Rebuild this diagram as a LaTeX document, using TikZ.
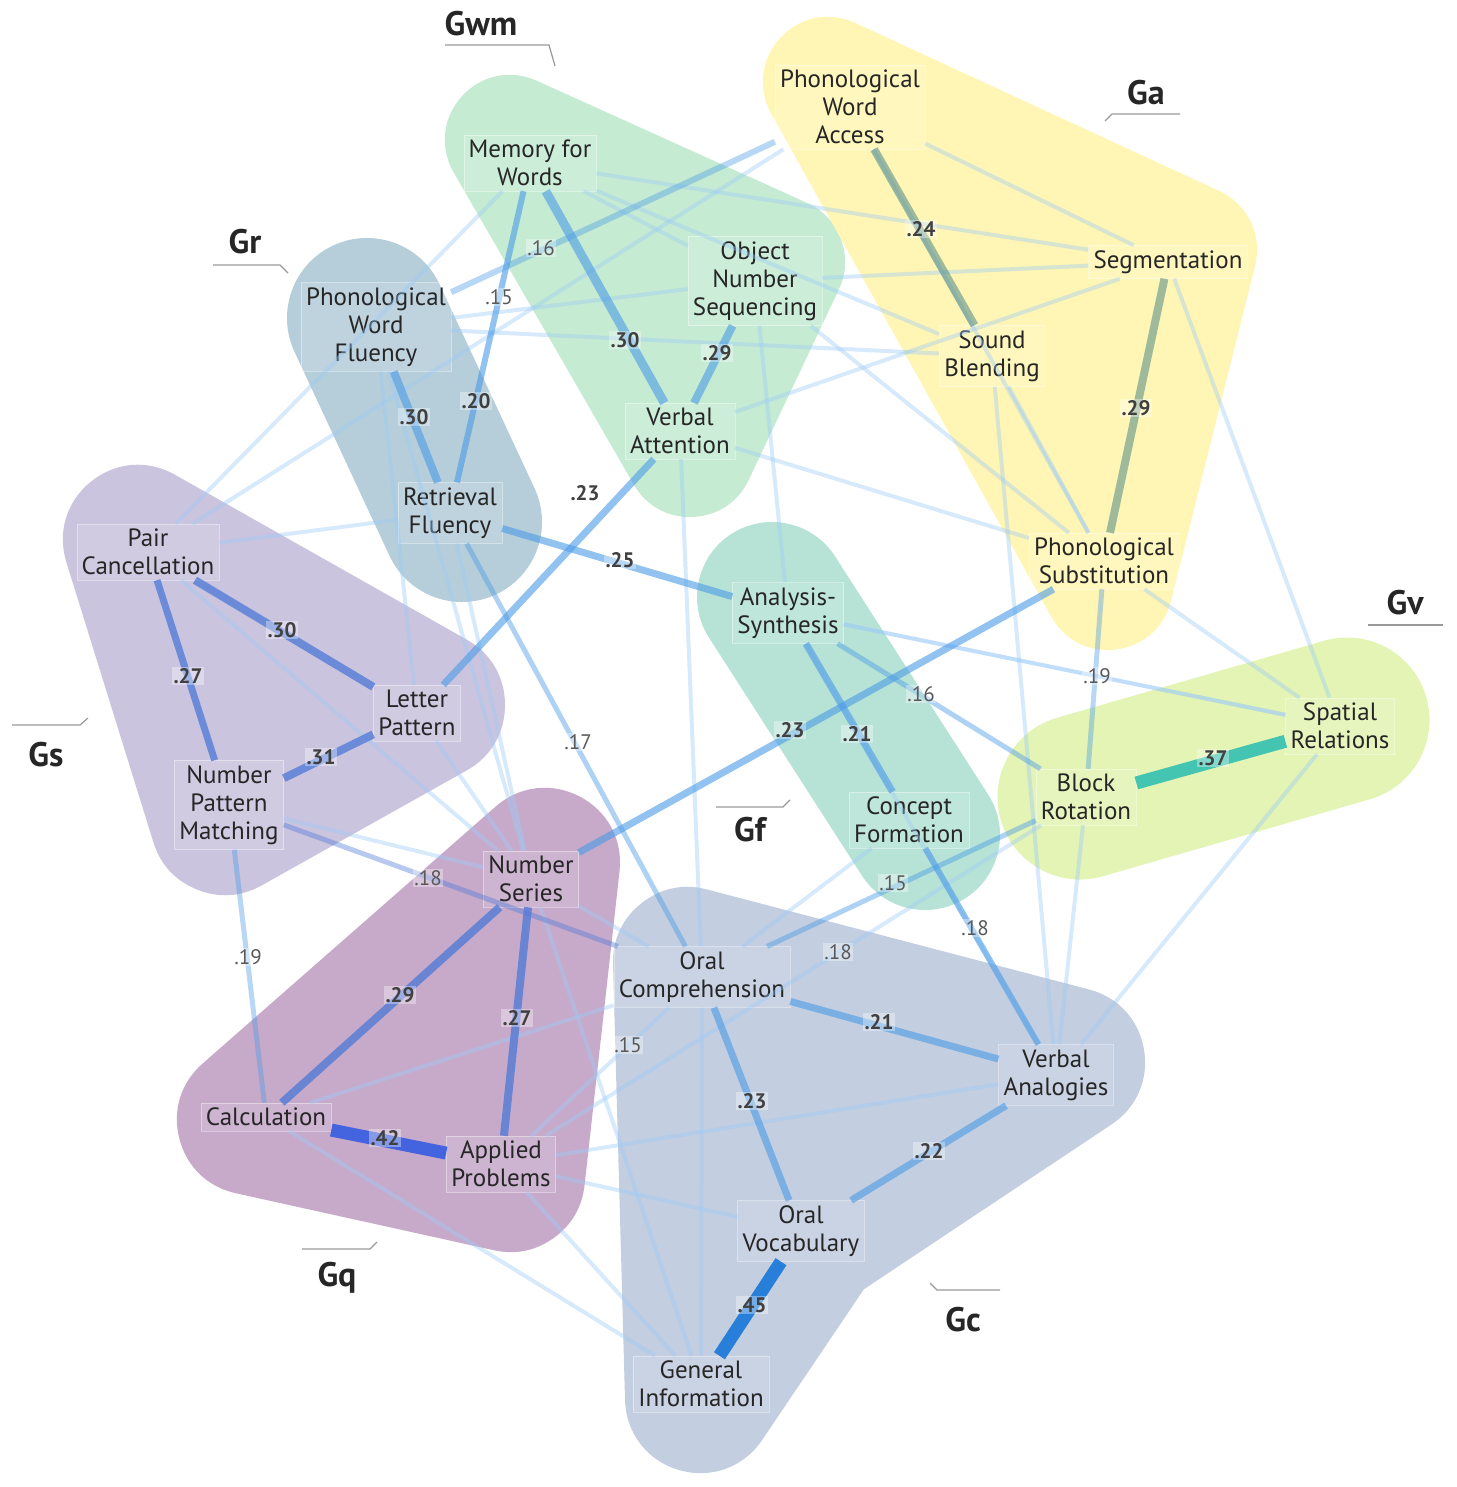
\documentclass[tikz,border=0pt]{standalone}
\usepackage{fontspec}
\setmainfont{PT Sans}
\begin{document}
\begin{tikzpicture}[x=1pt,y=-1pt,
 blob/.style={line join=round,line width=#1},
 nd/.style={font=\fontsize{25}{28}\selectfont,align=center,text=black!85,fill=white,fill opacity=0.12,text opacity=1,draw=white,draw opacity=0.4,inner sep=5pt},
 gl/.style={font=\bfseries\fontsize{34}{36}\selectfont,text=black!85},
 gline/.style={draw=gray!80,line width=1.2pt},
 st/.style={draw=cst,draw opacity=0.6,line width=#1},
 sp/.style={draw=csp,draw opacity=0.75,line width=#1},
 fa/.style={draw=cfa,draw opacity=0.4,line width=4pt},
 lb/.style={font=\fontsize{21}{22}\selectfont,text=black!65,fill=white,fill opacity=0.35,text opacity=1,inner sep=1.5pt},
 lbb/.style={lb,text=black!75,font=\bfseries\fontsize{21}{22}\selectfont}]
\useasboundingbox (0,0) rectangle (1456,1487);
\definecolor{cwm}{HTML}{C6EBD3}\definecolor{ca}{HTML}{FFF6B6}\definecolor{cr}{HTML}{B6CEDA}
\definecolor{cs}{HTML}{CBC4DF}\definecolor{cq}{HTML}{C7AACA}\definecolor{cf}{HTML}{B7E3D6}
\definecolor{cv}{HTML}{E3F4B5}\definecolor{cc}{HTML}{C3CEE0}
\definecolor{cst}{HTML}{4A9BE6}\definecolor{csp}{HTML}{4C78D8}\definecolor{cfa}{HTML}{9CCBF7}
% blobs
\filldraw[cwm,blob=130pt] (510,140)--(780,262)--(690,452)--cycle;
\filldraw[ca,blob=130pt] (828,82)--(1192,250)--(1108,585)--cycle;
\filldraw[cr,blob=160pt] (367,318)--(462,522)--cycle;
\filldraw[cs,blob=150pt] (138,540)--(430,705)--(225,820)--cycle;
\filldraw[cq,blob=150pt] (545,863)--(252,1120)--(510,1177)--cycle;
\filldraw[cf,blob=150pt] (772,597)--(925,835)--cycle;
\filldraw[cv,blob=165pt] (1080,797)--(1347,720)--cycle;
\filldraw[cc,blob=150pt] (688,962)--(1070,1062)--(810,1235)--(700,1398)--cycle;
% nodes
\node[nd] (mfw) at (530,163) {Memory for\\Words};
\node[nd] (ons) at (755,281) {Object\\Number\\Sequencing};
\node[nd] (va) at (680,431) {Verbal\\Attention};
\node[nd] (pwa) at (850,107) {Phonological\\Word\\Access};
\node[nd] (seg) at (1168,262) {Segmentation};
\node[nd] (sb) at (992,356) {Sound\\Blending};
\node[nd] (ps) at (1104,561) {Phonological\\Substitution};
\node[nd] (pwf) at (376,327) {Phonological\\Word\\Fluency};
\node[nd] (rf) at (450,513) {Retrieval\\Fluency};
\node[nd] (pc) at (148,552) {Pair\\Cancellation};
\node[nd] (lp) at (417,713) {Letter\\Pattern};
\node[nd] (npm) at (229,805) {Number\\Pattern\\Matching};
\node[nd] (as) at (788,613) {Analysis-\\Synthesis};
\node[nd] (cf) at (909,820) {Concept\\Formation};
\node[nd] (br) at (1086,797) {Block\\Rotation};
\node[nd] (sr) at (1340,726) {Spatial\\Relations};
\node[nd] (ns) at (531,879) {Number\\Series};
\node[nd] (calc) at (266,1117) {Calculation};
\node[nd] (ap) at (501,1164) {Applied\\Problems};
\node[nd] (oc) at (702,977) {Oral\\Comprehension};
\node[nd] (van) at (1056,1075) {Verbal\\Analogies};
\node[nd] (ov) at (801,1231) {Oral\\Vocabulary};
\node[nd] (gi) at (701,1384) {General\\Information};
% faint edges
\foreach \a/\b in {pwa/pc,pwa/seg,pwa/ps,mfw/seg,mfw/ons,mfw/sb,ons/seg,ons/pwf,ons/as,ons/ps,va/oc,va/ps,va/seg,sb/ps,sb/van,seg/sr,ps/sr,pwf/lp,pwf/ns,pc/rf,pc/ns,lp/ns,npm/ns,rf/ns,ns/oc,ns/gi,ap/oc,ap/van,ap/ov,calc/oc,calc/gi,oc/gi,oc/cf,van/sr,van/br,as/van,sr/as,ap/gi,br/ap,sb/pwf,mfw/pc,as/sr}
 \draw[fa] (\a) -- (\b);
% strong edges
\draw[st=9pt] (mfw) -- (va);
\draw[st=8pt] (ons) -- (va);
\draw[st=8pt] (pwf) -- (rf);
\draw[st=6pt] (mfw) -- (rf);
\draw[st=6pt,draw opacity=0.4] (pwa) -- (pwf);
\draw[st=7pt] (rf) -- (as);
\draw[st=7pt] (lp) -- (va);
\draw[sp=8pt] (pc) -- (lp);
\draw[sp=7pt] (pc) -- (npm);
\draw[sp=8pt] (npm) -- (lp);
\draw[st=5pt,draw opacity=0.4] (npm) -- (calc);
\draw[sp=5pt,draw opacity=0.4] (npm) -- (oc);
\draw[st=7pt] (ps) -- (ns);
\draw[st=7pt] (as) -- (cf);
\draw[st=5pt,draw opacity=0.45] (as) -- (br);
\draw[st=5pt,draw opacity=0.4] (ps) -- (br);
\draw[line width=13pt,draw=teal!60!cyan,draw opacity=0.7] (br) -- (sr);
\draw[st=5pt,draw opacity=0.45] (rf) -- (oc);
\draw[line width=8pt,draw=teal!50!gray,draw opacity=0.5] (pwa) -- (sb);
\draw[line width=8pt,draw=teal!50!gray,draw opacity=0.5] (seg) -- (ps);
\draw[st=5pt,draw opacity=0.45] (oc) -- (br);
\draw[st=6pt] (cf) -- (van);
\draw[st=7pt] (oc) -- (van);
\draw[st=7pt] (oc) -- (ov);
\draw[st=7pt] (van) -- (ov);
\draw[line width=13pt,draw=blue!50!cyan!85!black,draw opacity=0.8] (ov) -- (gi);
\draw[sp=8pt] (ns) -- (calc);
\draw[sp=8pt] (ns) -- (ap);
\draw[line width=13pt,draw=csp!80!blue,draw opacity=0.95] (calc) -- (ap);
% edge labels
\node[lbb] (l1) at (625,340) {.30};
\node[lbb] (l2) at (717,353) {.29};
\node[lbb] (l3) at (414,417) {.30};
\node[lbb] (l4) at (476,401) {.20};
\node[lb] (l5) at (499,297) {.15};
\node[lb] (l6) at (541,248) {.16};
\node[lbb] (l7) at (620,560) {.25};
\node[lbb] (l8) at (585,493) {.23};
\node[lbb] (l9) at (282,630) {.30};
\node[lbb] (l10) at (188,676) {.27};
\node[lbb] (l11) at (321,757) {.31};
\node[lb] (l12) at (248,957) {.19};
\node[lb] (l13) at (428,878) {.18};
\node[lbb] (l14) at (790,730) {.23};
\node[lbb] (l15) at (857,734) {.21};
\node[lb] (l16) at (921,694) {.16};
\node[lb] (l17) at (1097,676) {.19};
\node[lbb] (l18) at (1213,758) {.37};
\node[lb] (l19) at (578,742) {.17};
\node[lbb] (l20) at (921,229) {.24};
\node[lbb] (l21) at (1136,408) {.29};
\node[lb] (l22) at (893,883) {.15};
\node[lb] (l23) at (838,952) {.18};
\node[lb] (l24) at (975,928) {.18};
\node[lbb] (l25) at (879,1022) {.21};
\node[lbb] (l26) at (752,1101) {.23};
\node[lbb] (l27) at (929,1151) {.22};
\node[lbb] (l28) at (752,1305) {.45};
\node[lbb] (l29) at (400,995) {.29};
\node[lbb] (l30) at (517,1018) {.27};
\node[lbb] (l31) at (385,1138) {.42};
\node[lb] (l32) at (628,1045) {.15};
% group labels
\node[gl] (gwm) at (481,24) {Gwm}; \draw[gline] (445,45)--(549,45)--(555,66);
\node[gl] (ga) at (1146,93) {Ga}; \draw[gline] (1180,114)--(1112,114)--(1105,121);
\node[gl] (gr) at (245,242) {Gr}; \draw[gline] (213,265)--(280,265)--(288,273);
\node[gl] (gs) at (46,755) {Gs}; \draw[gline] (12,725)--(80,725)--(88,718);
\node[gl] (gv) at (1405,603) {Gv}; \draw[gline] (1368,625)--(1443,625);
\node[gl] (gf) at (750,830) {Gf}; \draw[gline] (716,807)--(783,807)--(790,800);
\node[gl] (gq) at (337,1278) {Gq}; \draw[gline] (302,1249)--(370,1249)--(377,1242);
\node[gl] (gc) at (963,1320) {Gc}; \draw[gline] (930,1283)--(937,1290)--(1000,1290);
\end{tikzpicture}
\end{document}
